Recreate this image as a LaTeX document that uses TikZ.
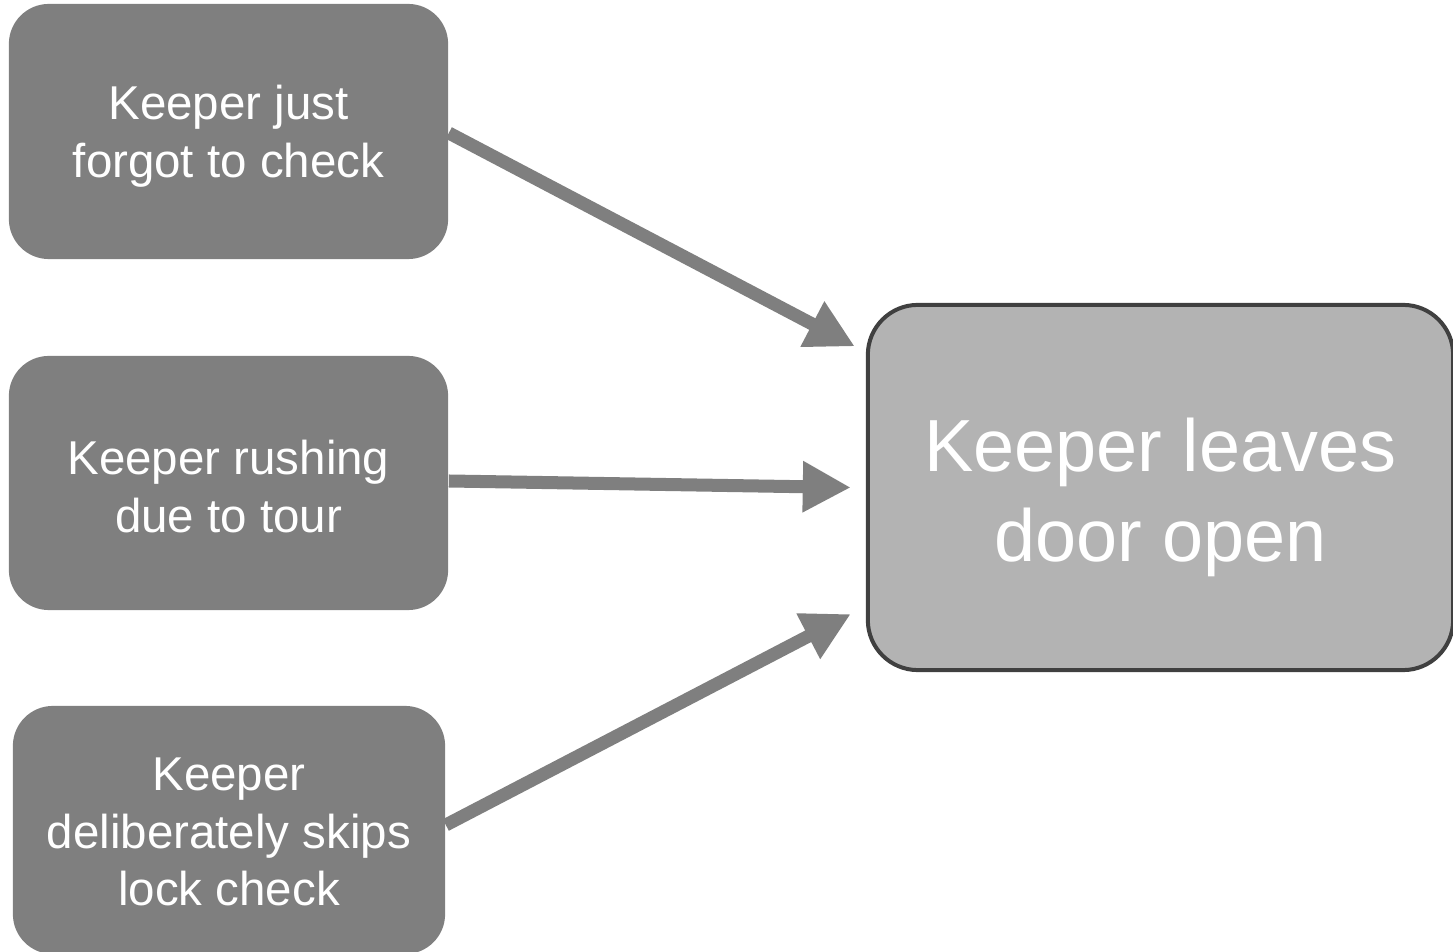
\documentclass[tikz,border=0pt]{standalone}
\usepackage{fontspec}
\setmainfont{Liberation Sans}
\usetikzlibrary{arrows.meta}
\definecolor{boxgray}{HTML}{7F7F7F}
\definecolor{biggray}{HTML}{B3B3B3}
\definecolor{edgegray}{HTML}{404040}
\begin{document}
\begin{tikzpicture}[x=0.01cm,y=-0.01cm,
  cause/.style={rectangle, rounded corners=0.4cm, fill=boxgray, inner sep=0pt},
  ctext/.style={text=white, inner sep=0pt, align=center, font=\fontsize{13.5}{16.4}\selectfont},
  effect/.style={rectangle, rounded corners=0.5cm, fill=biggray, draw=edgegray,
    line width=0.04cm, inner sep=0pt,
    minimum width=5.85cm, minimum height=3.65cm},
  etext/.style={text=white, inner sep=0pt, align=center, font=\fontsize{21}{25.5}\selectfont},
  arr/.style={draw=boxgray, line width=0.13cm,
    -{Triangle[length=0.48cm,width=0.48cm]}}]
\useasboundingbox (0,0) rectangle (1453,952);
\node[cause, minimum width=4.39cm, minimum height=2.55cm] (b1) at (228.5,131.5) {};
\node[ctext] (t1) at ([yshift=-0.045cm]b1.center) {Keeper just\\forgot to check};
\node[cause, minimum width=4.39cm, minimum height=2.54cm] (b2) at (228.5,483) {};
\node[ctext] (t2) at ([yshift=-0.035cm]b2.center) {Keeper rushing\\due to tour};
\node[cause, minimum width=4.32cm, minimum height=2.48cm] (b3) at (229,830) {};
\node[ctext] (t3) at ([yshift=-0.02cm]b3.center) {Keeper\\deliberately skips\\lock check};
\node[effect] (big) at (1160.5,487.5) {};
\node[etext] (tb) at ([yshift=-0.1cm]big.center) {Keeper leaves\\door open};
\draw[arr] ([yshift=-0.015cm]b1.east) -- ([xshift=-0.11cm,yshift=1.41cm]big.west);
\draw[arr] ([yshift=0.02cm]b2.east) -- ([xshift=-0.15cm]big.west);
\draw[arr] ([yshift=0.05cm]b3.east) -- ([xshift=-0.15cm,yshift=-1.265cm]big.west);
\end{tikzpicture}
\end{document}
